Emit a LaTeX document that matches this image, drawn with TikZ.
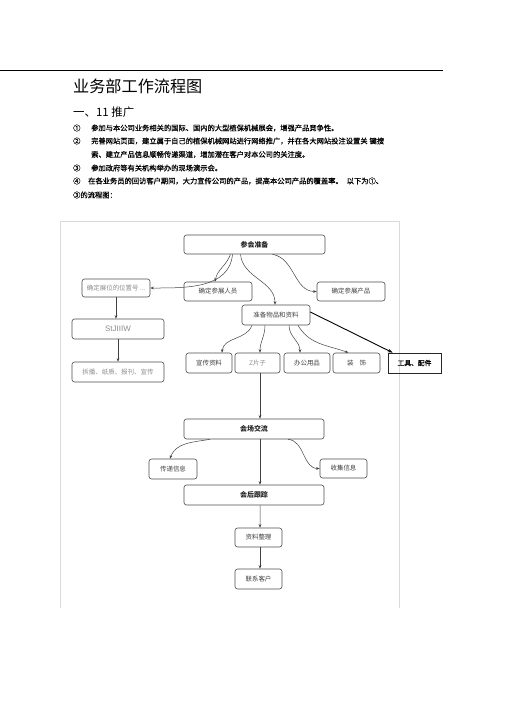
\documentclass[tikz,border=0pt]{standalone}
\usepackage{fontspec}
\newfontfamily\cjk{Noto Sans CJK SC}
\newfontfamily\cjkb{Noto Sans CJK SC}[FakeBold=0.6]
\setsansfont{Liberation Sans}
\usetikzlibrary{arrows.meta}
\begin{document}
\begin{tikzpicture}[x=1bp,y=-1bp,
  box/.style={draw=black!70, line width=0.6bp, rounded corners=2.5bp, inner sep=0pt, font=\cjk\fontsize{6.5}{7}\selectfont, text=black!75},
  pale/.style={box, text=black!45},
  arr/.style={draw=black!75, line width=0.5bp, -{Stealth[length=3.5bp,width=2.6bp]}},
  txt/.style={anchor=west, inner sep=0pt, font=\cjkb\fontsize{7.3}{8}\selectfont}]
\useasboundingbox (0,0) rectangle (505,714);
% header
\draw[line width=0.9bp] (0,70) -- (443,70);
\node[anchor=west, inner sep=0pt, font=\cjk\fontsize{16.2}{18}\selectfont] (title) at (73,86) {业务部工作流程图};
\node[anchor=west, inner sep=0pt, font=\cjk\fontsize{11.5}{13}\selectfont] (sub) at (73,112) {一、11 推广};
\node[txt] (n1) at (73,128) {①};
\node[txt] (t1) at (91,128) {参加与本公司业务相关的国际、国内的大型植保机械展会，增强产品竞争性。};
\node[txt] (n2) at (73,141) {②};
\node[txt] (t2) at (91,141) {完善网站页面，建立属于自己的植保机械网站进行网络推广，并在各大网站投注设置关\hspace{2bp}键搜};
\node[txt] (t2b) at (91,154.5) {索、建立产品信息顺畅传递渠道，增加潜在客户对本公司的关注度。};
\node[txt] (n3) at (73,168) {③};
\node[txt] (t3) at (91,168) {参加政府等有关机构举办的现场演示会。};
\node[txt] (n4) at (73,181) {④};
\node[txt] (t4) at (88,181) {在各业务员的回访客户期间，大力宣传公司的产品，提高本公司产品的覆盖率。\hspace{4bp}以下为①、};
\node[txt] (t5) at (73,195) {③的流程图：};
% frame of the figure
\draw[black!15, line width=0.8bp] (60,608) -- (60,221) -- (399,221) -- (399,608);
% nodes
\node[box, minimum width=141bp, minimum height=19bp, font=\cjk\bfseries\fontsize{7}{8}\selectfont, text=black!85] (hui) at (254.5,244.5) {参会准备};
\node[pale, minimum width=68bp, minimum height=18bp] (zw) at (116,288) {确定展位的位置号\,...};
\node[box, minimum width=68bp, minimum height=19bp] (ry) at (218,291.5) {确定参展人员};
\node[box, minimum width=68bp, minimum height=19bp] (cp) at (351,291.5) {确定参展产品};
\node[box, minimum width=68bp, minimum height=20bp] (zb) at (276,315) {准备物品和资料};
\node[pale, minimum width=92bp, minimum height=20bp, font=\sffamily\fontsize{8}{9}\selectfont] (st) at (118,329) {StJIIIW};
\node[pale, minimum width=92bp, minimum height=20bp] (bl) at (118,372) {拆播、纸质、报刊、宣传};
\node[box, minimum width=46bp, minimum height=20bp] (xc) at (209,363) {宣传资料};
\node[pale, minimum width=45bp, minimum height=20bp] (zp) at (257.5,363) {{\sffamily Z}片子};
\node[box, minimum width=46bp, minimum height=20bp] (bg) at (307,363) {办公用品};
\node[box, minimum width=47bp, minimum height=20bp] (zs) at (356.5,363) {装\hspace{6bp}饰};
\node[draw=black!85, line width=0.7bp, inner sep=0pt, minimum width=53bp, minimum height=20bp, font=\cjkb\fontsize{6.8}{7}\selectfont] (gj) at (414.5,363) {工具、配件};
\node[box, minimum width=140bp, minimum height=20bp, font=\cjk\bfseries\fontsize{7}{8}\selectfont, text=black!85] (jl) at (254,429) {会场交流};
\node[box, minimum width=48bp, minimum height=20bp] (cd) at (173,469) {传递信息};
\node[box, minimum width=47bp, minimum height=19bp] (sj) at (343.5,468.5) {收集信息};
\node[box, minimum width=140bp, minimum height=20bp, font=\cjk\bfseries\fontsize{7}{8}\selectfont, text=black!85] (gz) at (254,495) {会后跟踪};
\node[box, minimum width=47bp, minimum height=19bp] (zl) at (258.5,537.5) {资料整理};
\node[box, minimum width=47bp, minimum height=20bp] (lx) at (258.5,579) {联系客户};
% connectors
\draw[arr] ([xshift=-22bp]hui.south) to[out=-95,in=0] (zw.east);
\draw[arr] ([xshift=-24bp]hui.south) to[out=-110,in=80] ([xshift=-3bp]ry.north);
\draw[arr] ([xshift=-14bp]hui.south) to[out=-85,in=90] ([xshift=-1bp]zb.north);
\draw[arr] ([xshift=18bp]hui.south) to[out=-10,in=180] (cp.west);
\draw[arr] (zw.south) -- (zw.south |- st.north);
\draw[arr] (st.south) -- (bl.north);
\draw[arr] ([xshift=-24bp]zb.south) to[out=-110,in=85] ([xshift=13bp]xc.north);
\draw[arr] ([xshift=-11bp]zb.south) to[out=-90,in=90] ([xshift=2.5bp]zp.north);
\draw[arr] ([xshift=13bp]zb.south) to[out=-90,in=90] ([xshift=-7bp]bg.north);
\draw[arr] ([xshift=22bp]zb.south) to[out=-60,in=160] ([xshift=-8bp]zs.north);
\draw[line width=0.9bp, -{Stealth[length=5bp,width=3.5bp]}] ([yshift=3bp]zb.east) -- ([xshift=5bp]gj.north west);
\draw[arr] ([xshift=2.5bp]zp.south) -- ([xshift=2.5bp]zp.south |- jl.north);
\draw[arr] ([xshift=-44bp]jl.south) to[out=-170,in=70] ([xshift=-3bp]cd.north);
\draw[arr] ([xshift=6bp]jl.south) -- ([xshift=6bp]gz.north);
\draw[arr] ([xshift=34bp]jl.south) to[out=-5,in=180] (sj.west);
\draw[arr] ([xshift=6bp]gz.south) -- ([xshift=1.5bp]zl.north);
\draw[arr] ([xshift=1.5bp]zl.south) -- ([xshift=1.5bp]lx.north);
\end{tikzpicture}
\end{document}
